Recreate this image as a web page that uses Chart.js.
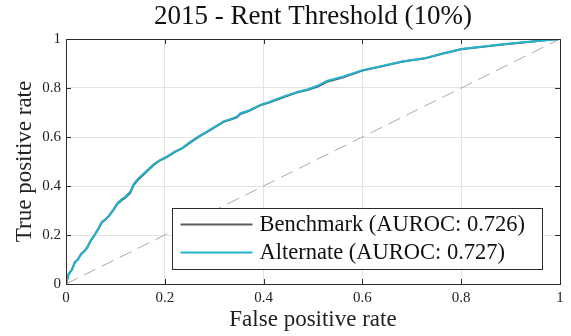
<!DOCTYPE html>
<html>
<head>
<meta charset="utf-8">
<script src="https://cdn.jsdelivr.net/npm/chart.js@4/dist/chart.umd.min.js"></script>
<style>
  html, body { margin: 0; padding: 0; background: #ffffff; }
  canvas { display: block; }
</style>
</head>
<body>
<canvas id="roc" width="571" height="336"></canvas>
<script>
// ROC curves for the 2015 rent-threshold model
const titleText = '2015 - Rent Threshold (10%)';
const xAxisTitle = 'False positive rate';
const yAxisTitle = 'True positive rate';
const tickValues = [0, 0.2, 0.4, 0.6, 0.8, 1];

const benchLabel = 'Benchmark (AUROC: 0.726)';
const benchFpr = [0, 0.005, 0.012, 0.018, 0.024, 0.03, 0.037, 0.043, 0.05, 0.057, 0.065, 0.072, 0.08, 0.088, 0.096, 0.104, 0.112, 0.12, 0.13, 0.137, 0.145, 0.155, 0.165, 0.178, 0.19, 0.204, 0.22, 0.235, 0.25, 0.27, 0.285, 0.3, 0.32, 0.335, 0.346, 0.353, 0.37, 0.393, 0.41, 0.44, 0.47, 0.49, 0.51, 0.528, 0.56, 0.6, 0.64, 0.68, 0.7, 0.725, 0.76, 0.8, 0.84, 0.88, 0.92, 0.95, 0.975, 1];
const benchTpr = [0, 0.038, 0.058, 0.088, 0.1, 0.12, 0.133, 0.148, 0.176, 0.197, 0.222, 0.25, 0.263, 0.28, 0.302, 0.327, 0.341, 0.352, 0.372, 0.404, 0.423, 0.443, 0.462, 0.487, 0.504, 0.518, 0.538, 0.553, 0.575, 0.602, 0.62, 0.638, 0.663, 0.672, 0.68, 0.694, 0.706, 0.729, 0.74, 0.762, 0.783, 0.793, 0.806, 0.825, 0.843, 0.871, 0.889, 0.907, 0.913, 0.92, 0.939, 0.958, 0.967, 0.977, 0.985, 0.991, 0.996, 1];

const altLabel = 'Alternate (AUROC: 0.727)';
const altFpr = [0, 0.005, 0.012, 0.018, 0.024, 0.03, 0.037, 0.043, 0.05, 0.057, 0.065, 0.072, 0.08, 0.088, 0.096, 0.104, 0.112, 0.12, 0.13, 0.137, 0.145, 0.155, 0.165, 0.178, 0.19, 0.204, 0.22, 0.235, 0.25, 0.27, 0.285, 0.3, 0.32, 0.335, 0.346, 0.353, 0.37, 0.393, 0.41, 0.44, 0.47, 0.49, 0.51, 0.528, 0.56, 0.6, 0.64, 0.68, 0.7, 0.725, 0.76, 0.8, 0.84, 0.88, 0.92, 0.95, 0.975, 1];
const altTpr = [0, 0.04, 0.06, 0.09, 0.1, 0.122, 0.135, 0.15, 0.178, 0.198, 0.225, 0.252, 0.265, 0.282, 0.305, 0.33, 0.345, 0.356, 0.377, 0.408, 0.428, 0.447, 0.465, 0.49, 0.506, 0.52, 0.54, 0.555, 0.578, 0.605, 0.622, 0.64, 0.665, 0.675, 0.683, 0.697, 0.708, 0.731, 0.742, 0.765, 0.785, 0.795, 0.81, 0.829, 0.846, 0.873, 0.89, 0.908, 0.914, 0.921, 0.94, 0.959, 0.968, 0.978, 0.986, 0.991, 0.996, 1];

const chanceX = [0, 1];
const chanceY = [0, 1];

const toPoints = (xs, ys) => xs.map((x, i) => ({ x: x, y: ys[i] }));

const SERIF = '"Liberation Serif", "Times New Roman", serif';
const AXIS_COLOR = '#2b2b2b';

// Box around the plot plus inward tick marks on all four sides
const boxAndTicks = {
  id: 'boxAndTicks',
  afterDatasetsDraw(chart) {
    const { ctx, chartArea: a, scales } = chart;
    const len = 5;
    ctx.save();
    ctx.strokeStyle = AXIS_COLOR;
    ctx.lineWidth = 1;
    ctx.beginPath();
    tickValues.forEach(v => {
      const px = Math.round(scales.x.getPixelForValue(v)) + 0.5;
      ctx.moveTo(px, a.bottom); ctx.lineTo(px, a.bottom - len);
      ctx.moveTo(px, a.top); ctx.lineTo(px, a.top + len);
      const py = Math.round(scales.y.getPixelForValue(v)) + 0.5;
      ctx.moveTo(a.left, py); ctx.lineTo(a.left + len, py);
      ctx.moveTo(a.right, py); ctx.lineTo(a.right - len, py);
    });
    ctx.stroke();
    ctx.strokeRect(Math.round(a.left) + 0.5, Math.round(a.top) + 0.5,
                   Math.round(a.right - a.left), Math.round(a.bottom - a.top));
    ctx.restore();
  }
};

// Framed legend placed in the lower right of the plot area
const boxedLegend = {
  id: 'boxedLegend',
  afterDraw(chart) {
    const { ctx, chartArea: a } = chart;
    const items = chart.data.datasets.filter(d => d.inLegend);
    ctx.save();
    ctx.font = '22.5px ' + SERIF;
    const textW = Math.max(...items.map(d => ctx.measureText(d.label).width));
    const padL = 8, lineLen = 72, gap = 7, padR = 17, rowH = 28, padT = 16, padB = 17;
    const w = padL + lineLen + gap + textW + padR;
    const h = padT + rowH * (items.length - 1) + padB;
    const x0 = Math.round(a.right - 18 - w) + 0.5;
    const y0 = Math.round(a.bottom - 15 - h) + 0.5;
    ctx.fillStyle = '#ffffff';
    ctx.fillRect(x0, y0, w, h);
    ctx.strokeStyle = AXIS_COLOR;
    ctx.lineWidth = 1;
    ctx.strokeRect(x0, y0, Math.round(w), Math.round(h));
    items.forEach((d, i) => {
      const y = y0 + padT + i * rowH;
      ctx.strokeStyle = d.borderColor;
      ctx.lineWidth = 2;
      ctx.beginPath();
      ctx.moveTo(x0 + padL, y);
      ctx.lineTo(x0 + padL + lineLen, y);
      ctx.stroke();
      ctx.fillStyle = '#111111';
      ctx.textBaseline = 'middle';
      ctx.textAlign = 'left';
      ctx.fillText(d.label, x0 + padL + lineLen + gap, y + 1);
    });
    ctx.restore();
  }
};

new Chart(document.getElementById('roc'), {
  type: 'scatter',
  data: {
    datasets: [
      {
        label: benchLabel,
        inLegend: true,
        data: toPoints(benchFpr, benchTpr),
        showLine: true,
        borderColor: '#5e5e5e',
        borderWidth: 2,
        pointRadius: 0,
        order: 1
      },
      {
        label: altLabel,
        inLegend: true,
        data: toPoints(altFpr, altTpr),
        showLine: true,
        borderColor: '#22b3cd',
        borderWidth: 2,
        pointRadius: 0,
        order: 0
      },
      {
        label: 'Chance',
        inLegend: false,
        data: toPoints(chanceX, chanceY),
        showLine: true,
        borderColor: '#ababab',
        borderWidth: 1,
        borderDash: [13, 7],
        pointRadius: 0,
        order: 2
      }
    ]
  },
  options: {
    responsive: false,
    animation: false,
    devicePixelRatio: 1,
    layout: { padding: { left: 0, right: 11, top: 0, bottom: 0 } },
    plugins: {
      legend: { display: false },
      tooltip: { enabled: false },
      title: {
        display: true,
        fullSize: false,
        text: titleText,
        color: '#111111',
        font: { family: SERIF, size: 27, weight: 'normal' },
        padding: { top: 1, bottom: 5.6 }
      }
    },
    scales: {
      x: {
        type: 'linear',
        min: 0,
        max: 1,
        afterBuildTicks: s => { s.ticks = tickValues.map(v => ({ value: v })); },
        afterFit: s => { s.height = 52; },
        ticks: {
          color: '#222222',
          font: { family: SERIF, size: 15 },
          padding: 5,
          maxRotation: 0,
          callback: v => String(+v.toFixed(1))
        },
        grid: { color: '#e3e3e3', lineWidth: 1, drawTicks: false },
        border: { display: false },
        title: {
          display: true,
          text: xAxisTitle,
          color: '#222222',
          font: { family: SERIF, size: 23 },
          padding: { top: 0, bottom: 2 }
        }
      },
      y: {
        type: 'linear',
        min: 0,
        max: 1,
        afterBuildTicks: s => { s.ticks = tickValues.map(v => ({ value: v })); },
        afterFit: s => { s.width = 66; },
        ticks: {
          color: '#222222',
          font: { family: SERIF, size: 15 },
          padding: 5,
          callback: v => String(+v.toFixed(1))
        },
        grid: { color: '#e3e3e3', lineWidth: 1, drawTicks: false },
        border: { display: false },
        title: {
          display: true,
          text: yAxisTitle,
          color: '#222222',
          font: { family: SERIF, size: 23 },
          padding: { top: 11, bottom: 0 }
        }
      }
    }
  },
  plugins: [boxAndTicks, boxedLegend]
});
</script>
</body>
</html>
